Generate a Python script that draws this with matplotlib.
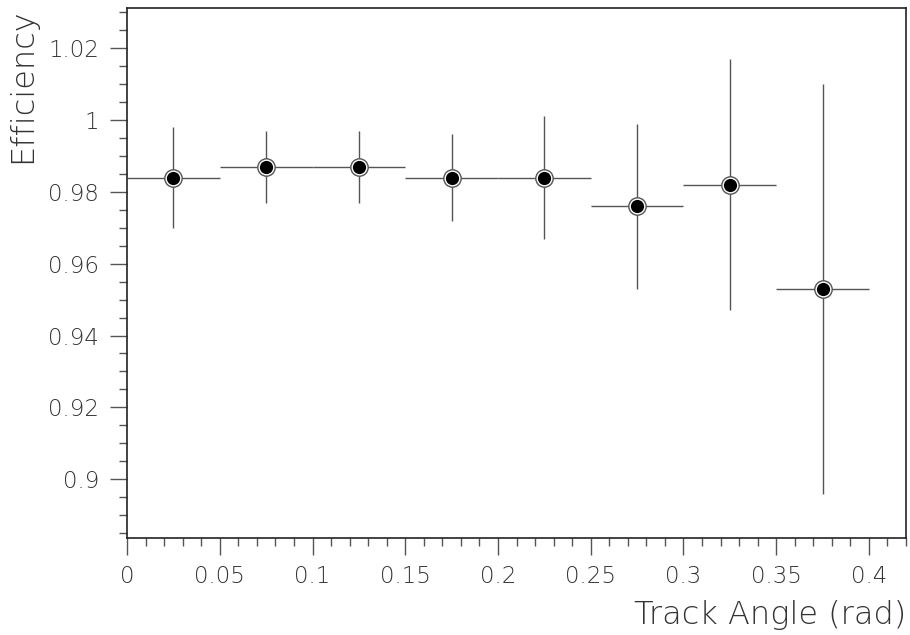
import matplotlib
matplotlib.use("Agg")
import matplotlib.pyplot as plt
from matplotlib.ticker import MultipleLocator

# ---------------------------------------------------------------------
# Data
# ---------------------------------------------------------------------

angle = [0.025, 0.075, 0.125, 0.175, 0.225, 0.275, 0.325, 0.375]
half_width = [0.025] * 8
efficiency = [0.984, 0.987, 0.987, 0.984, 0.984, 0.976, 0.982, 0.953]
err_up = [0.014, 0.010, 0.010, 0.012, 0.017, 0.023, 0.035, 0.057]
err_down = [0.014, 0.010, 0.010, 0.012, 0.017, 0.023, 0.035, 0.057]

TEXT = "#333333"
LINE = "#555555"

plt.rcParams["font.family"] = ["DejaVu Sans"]
plt.rcParams["font.weight"] = "light"
plt.rcParams["axes.labelweight"] = "light"

fig = plt.figure(figsize=(9.1, 6.35), dpi=100)
ax = fig.add_axes([0.1396, 0.1532, 0.8560, 0.8342])

ax.errorbar(angle, efficiency, xerr=half_width, yerr=[err_down, err_up],
            fmt="none", ecolor=LINE, elinewidth=1.0, capsize=0, zorder=2)
# marker: gray outer ring, white ring, black dot
ax.plot(angle, efficiency, "o", ms=12.5, mfc="white", mec=LINE, mew=1.0, zorder=3)
ax.plot(angle, efficiency, "o", ms=9.5, mfc="black", mec="black", mew=0, zorder=4)

ax.set_xlim(0, 0.42)
ax.set_ylim(0.8837, 1.0312)

ax.xaxis.set_major_locator(MultipleLocator(0.05))
ax.xaxis.set_minor_locator(MultipleLocator(0.01))
ax.yaxis.set_major_locator(MultipleLocator(0.02))
ax.yaxis.set_minor_locator(MultipleLocator(0.005))
ax.xaxis.set_major_formatter(plt.FuncFormatter(lambda v, p: f"{v:g}"))
ax.yaxis.set_major_formatter(plt.FuncFormatter(lambda v, p: f"{v:g}"))

ax.tick_params(which="major", direction="out", length=12, width=1.0,
               color=LINE, labelsize=16.5, labelcolor=TEXT, pad=8)
ax.tick_params(which="minor", direction="out", length=6, width=1.0, color=LINE)
ax.tick_params(top=False, right=False)

for side in ax.spines.values():
    side.set_linewidth(1.2)
    side.set_color("#222222")

ax.set_xlabel("Track Angle (rad)", fontsize=23, color=TEXT, loc="right", labelpad=8)
ax.set_ylabel("Efficiency", fontsize=23, color=TEXT, loc="top", labelpad=8)

fig.savefig("out.png", dpi=100)
